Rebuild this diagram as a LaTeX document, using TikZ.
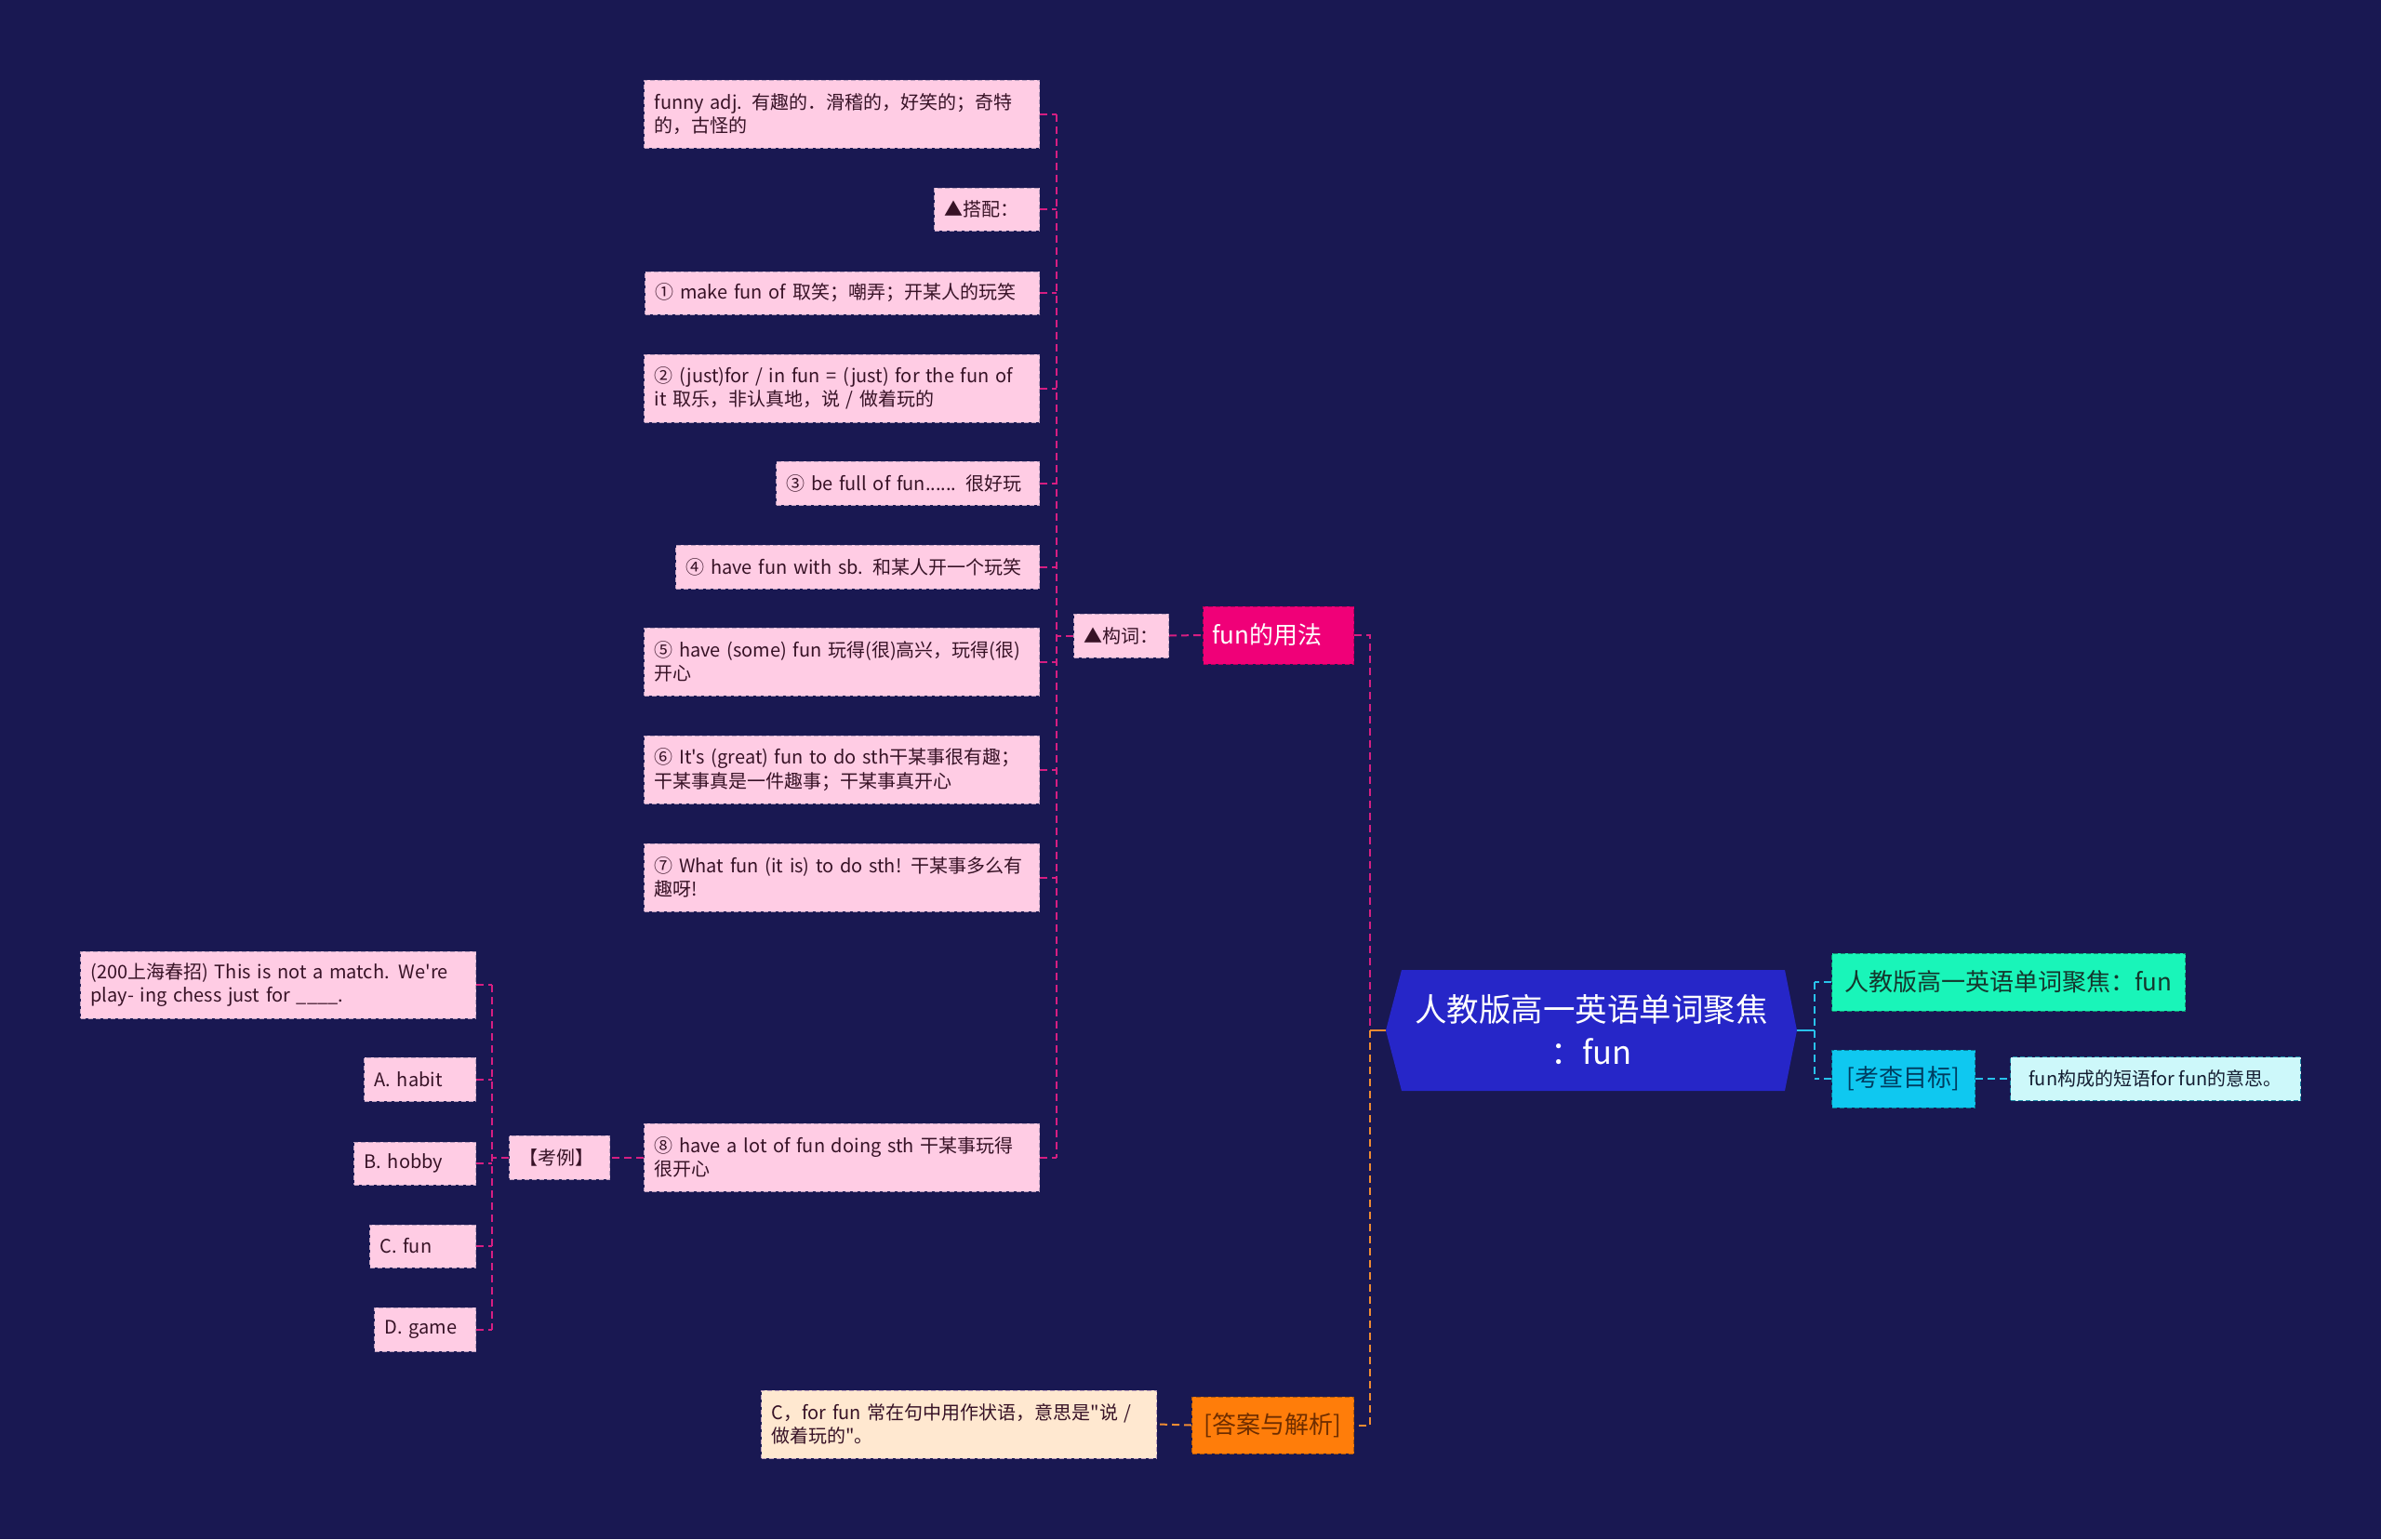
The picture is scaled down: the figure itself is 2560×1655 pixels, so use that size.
\documentclass[tikz,border=0pt]{standalone}
\usepackage{fontspec}
\setmainfont{Noto Sans CJK SC}[Ligatures=TeXOff]
\definecolor{bg}{RGB}{25,24,82}
\definecolor{pinkfill}{RGB}{255,204,228}
\definecolor{pinkdraw}{RGB}{190,160,190}
\definecolor{pline}{RGB}{214,30,130}
\definecolor{oline}{RGB}{240,140,50}
\definecolor{cline}{RGB}{40,195,235}
\definecolor{rootblue}{RGB}{38,38,200}
\definecolor{magfill}{RGB}{240,0,120}
\definecolor{greenfill}{RGB}{25,245,185}
\definecolor{cyanfill}{RGB}{15,200,240}
\definecolor{lcyanfill}{RGB}{205,248,250}
\definecolor{orangefill}{RGB}{255,125,10}
\definecolor{peachfill}{RGB}{255,232,208}
\definecolor{darktext}{RGB}{55,18,38}
\tikzset{
  pbox/.style={rectangle, fill=pinkfill, draw=pinkdraw, dash pattern=on 5pt off 3pt, line width=1pt,
    inner xsep=11pt, inner ysep=0pt, align=left, anchor=east, text=darktext,
    font=\fontsize{20pt}{25.5pt}\selectfont},
  cbox/.style={rectangle, dash pattern=on 5pt off 3pt, line width=1pt,
    inner xsep=10pt, inner ysep=0pt, align=center, anchor=west,
    font=\fontsize{26pt}{30pt}\selectfont},
  plink/.style={draw=pline, line width=2pt, dash pattern=on 8pt off 5pt},
  olink/.style={draw=oline, line width=2pt, dash pattern=on 8pt off 5pt},
  clink/.style={draw=cline, line width=2pt, dash pattern=on 8pt off 5pt},
}
\begin{document}
\begin{tikzpicture}[x=1pt,y=-1pt]
\useasboundingbox (0,0) rectangle (2560,1655);
\fill[bg] (0,0) rectangle (2560,1655);

% ---- left column (构词 children)
\node[pbox, text width=403pt, minimum height=73pt] (n0) at (1118,122.5) {funny adj. 有趣的．滑稽的，好笑的；奇特\\的，古怪的};
\node[pbox, text width=91pt, minimum height=46pt] (n1) at (1118,225) {▲搭配：};
\node[pbox, text width=402pt, minimum height=46pt] (n2) at (1118,315) {① make fun of 取笑；嘲弄；开某人的玩笑};
\node[pbox, text width=403pt, minimum height=73pt] (n3) at (1118,417.5) {② (just)for / in fun = (just) for the fun of\\it 取乐，非认真地，说 / 做着玩的};
\node[pbox, text width=261pt, minimum height=47pt] (n4) at (1118,519.5) {③ be full of fun...... 很好玩};
\node[pbox, text width=369pt, minimum height=47pt] (n5) at (1118,609.5) {④ have fun with sb. 和某人开一个玩笑};
\node[pbox, text width=403pt, minimum height=73pt] (n6) at (1118,711.5) {⑤ have (some) fun 玩得(很)高兴，玩得(很)\\开心};
\node[pbox, text width=403pt, minimum height=73pt] (n7) at (1118,827.5) {⑥ It's (great) fun to do sth干某事很有趣；\\干某事真是一件趣事；干某事真开心};
\node[pbox, text width=403pt, minimum height=73pt] (n8) at (1118,943.5) {⑦ What fun (it is) to do sth! 干某事多么有\\趣呀!};
\node[pbox, text width=403pt, minimum height=73pt] (n9) at (1118,1244.5) {⑧ have a lot of fun doing sth 干某事玩得\\很开心};

% ---- question column
\node[pbox, text width=403pt, minimum height=72pt] (q0) at (512,1059) {(200上海春招) This is not a match. We're\\play- ing chess just for \_\_\_\_.};
\node[pbox, text width=98pt, minimum height=47pt] (qa) at (512,1160.5) {A. habit};
\node[pbox, text width=109pt, minimum height=46pt] (qb) at (512,1251) {B. hobby};
\node[pbox, text width=92pt, minimum height=46pt] (qc) at (512,1340) {C. fun};
\node[pbox, text width=87pt, minimum height=47pt] (qd) at (512,1429.5) {D. game};
\node[pbox, text width=86pt, minimum height=47pt] (kaoli) at (656,1244.5) {【考例】};

% ---- middle
\node[pbox, text width=80pt, minimum height=47pt] (gouci) at (1257,683.5) {▲构词：};
\node[cbox, fill=magfill, draw=magfill!75!black, text=white, minimum width=162pt, minimum height=62pt, align=left, text width=142pt] (yongfa) at (1293,683) {fun的用法};

% answer
\node[pbox, fill=peachfill, draw=pinkdraw, text width=403pt, minimum height=73pt] (jiexi) at (1244,1531.5) {C，for fun 常在句中用作状语，意思是"说 /\\做着玩的"。};
\node[cbox, fill=orangefill, draw=orangefill!70!black, text={rgb,255:red,110;green,45;blue,0}, minimum width=174pt, minimum height=61pt] (daan) at (1281,1532.5) {[答案与解析]};

% ---- root
\coordinate (rootL) at (1490,1108);
\coordinate (rootR) at (1932,1108);
\fill[rootblue] (1507,1043) -- (1919,1043) -- (rootR) -- (1919,1173) -- (1507,1173) -- (rootL) -- cycle;
\node[text=white, align=center, font=\fontsize{34.5pt}{46pt}\selectfont] (root) at (1711,1107) {人教版高一英语单词聚焦\\：fun};

% ---- right
\node[cbox, fill=greenfill, draw=greenfill!60!black, text={rgb,255:red,20;green,55;blue,45}, minimum width=380pt, minimum height=62pt] (green) at (1969,1056) {人教版高一英语单词聚焦：fun};
\node[cbox, fill=cyanfill, draw=cyanfill!60!black, text={rgb,255:red,0;green,60;blue,95}, minimum width=154pt, minimum height=62pt] (mubiao) at (1969,1160) {[考查目标]};
\node[cbox, fill=lcyanfill, draw=cline!70!black, text={rgb,255:red,20;green,30;blue,50}, minimum width=312pt, minimum height=47pt, font=\fontsize{20pt}{24pt}\selectfont] (muneir) at (2161,1160) {fun构成的短语for fun的意思。};

% ---- connectors: 构词 children
\path (gouci.west) ++(-18,0) coordinate (gs);
\draw[plink] (gouci.west) -- (gs);
\draw[plink] (n0.east -| gs) -- (n9.east -| gs);
\foreach \n in {n0,n1,n2,n3,n4,n5,n6,n7,n8,n9} \draw[plink] (\n.east) -- (\n.east -| gs);
\draw[plink] (gouci.east) -- (yongfa.west);

% 考例 children
\path (kaoli.west) ++(-18,0) coordinate (ks);
\draw[plink] (kaoli.west) -- (ks);
\draw[plink] (q0.east -| ks) -- (qd.east -| ks);
\foreach \n in {q0,qa,qb,qc,qd} \draw[plink] (\n.east) -- (\n.east -| ks);
\draw[plink] (n9.west) -- (kaoli.east);

% root left
\path (rootL) ++(-17,0) coordinate (ms);
\draw[plink] (yongfa.east) -| (ms);
\draw[olink] (ms) |- (daan.east);
\draw[oline, line width=2.5pt] (rootL) -- (ms);
\draw[olink] (daan.west) -- (jiexi.east);

% root right
\path (rootR) ++(19,0) coordinate (rs);
\draw[cline, line width=2.5pt] (rootR) -- (rs);
\draw[clink] (green.west -| rs) -- (mubiao.west -| rs);
\draw[clink] (green.west) -- (green.west -| rs);
\draw[clink] (mubiao.west) -- (mubiao.west -| rs);
\draw[clink] (mubiao.east) -- (muneir.west);
\end{tikzpicture}
\end{document}
